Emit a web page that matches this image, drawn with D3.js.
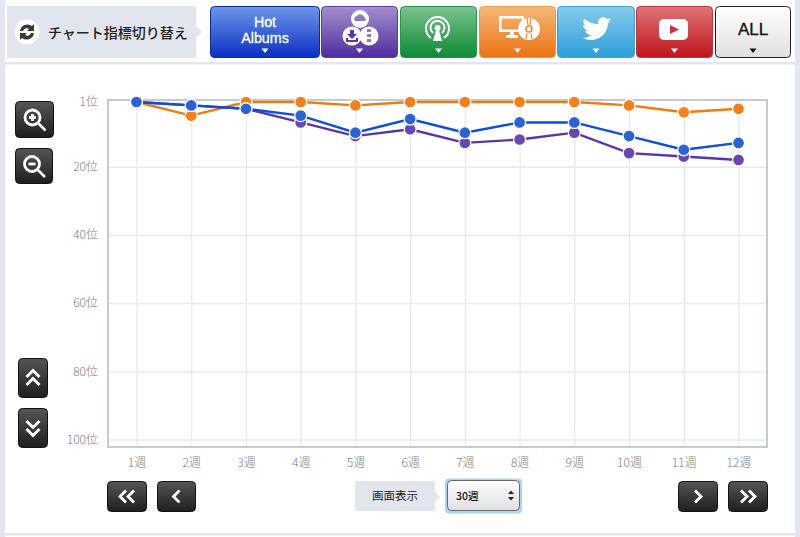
<!DOCTYPE html>
<html>
<head>
<meta charset="utf-8">
<script src="https://cdn.jsdelivr.net/npm/d3@7"></script>
<style>
html, body { margin: 0; padding: 0; background: #fff; overflow: hidden; }
svg { display: block; }
text { font-family: "Noto Sans CJK JP", "Liberation Sans", sans-serif; }
.axis text { fill: #7c7c7c; font-size: 12px; font-weight: 300; }
.axis path { display: none; }
.axis line { stroke: #e9e9ec; stroke-width: 1.3; }
</style>
</head>
<body>
<svg id="chart" width="800" height="537"></svg>
<script>
// chart values
var weeks = [1, 2, 3, 4, 5, 6, 7, 8, 9, 10, 11, 12];
var rankTicks = [1, 20, 40, 60, 80, 100];
var hotAlbums = [1, 2, 3, 5, 10, 6, 10, 7, 7, 11, 15, 13];
var downloads = [1, 2, 3, 7, 11, 9, 13, 12, 10, 16, 17, 18];
var lookups = [1, 5, 1, 1, 2, 1, 1, 1, 1, 2, 4, 3];

var svg = d3.select("#chart");
var defs = svg.append("defs");

// gradient for each toolbar button
function addGradient(id, top, bottom) {
    var g = defs.append("linearGradient").attr("id", id).attr("x1", 0).attr("y1", 0).attr("x2", 0).attr("y2", 1);
    g.append("stop").attr("offset", "0%").attr("stop-color", top);
    g.append("stop").attr("offset", "100%").attr("stop-color", bottom);
}
addGradient("gBlue", "#6d97e8", "#0a2fc4");
addGradient("gPurple", "#a48fd0", "#4f2c9e");
addGradient("gGreen", "#7cc48e", "#0c8a35");
addGradient("gOrange", "#f5b878", "#ec7212");
addGradient("gSky", "#88cbec", "#2a9dd8");
addGradient("gRed", "#de7478", "#c0141c");
addGradient("gWhite", "#ffffff", "#e0e0e0");
addGradient("gDark", "#555555", "#1e1e1e");

// page frame
svg.append("rect").attr("x", 0).attr("y", 0).attr("width", 5).attr("height", 537).attr("fill", "#e1e6ef");
svg.append("rect").attr("x", 795).attr("y", 0).attr("width", 5).attr("height", 537).attr("fill", "#e1e6ef");
svg.append("rect").attr("x", 5).attr("y", 62).attr("width", 790).attr("height", 2.5).attr("fill", "#e1e6ef");
svg.append("rect").attr("x", 5).attr("y", 533).attr("width", 790).attr("height", 2.5).attr("fill", "#e1e6ef");

// label on the left of the toolbar
svg.append("path").attr("d", "M7 6H196V26L202 32L196 38V58H7Z").attr("fill", "#e1e6ee");
svg.append("circle").attr("cx", 27).attr("cy", 32).attr("r", 12.5).attr("fill", "#fff");
svg.append("path").attr("d", "M20 31a7.5 7.5 0 0 1 12-5l2-2v7h-7l2-2a4 4 0 0 0-6 2Z M34 33a7.5 7.5 0 0 1-12 5l-2 2v-7h7l-2 2a4 4 0 0 0 6-2Z").attr("fill", "#3a3a3a");
svg.append("text").attr("x", 48).attr("y", 38).attr("font-size", 14).attr("font-weight", 500).attr("fill", "#222").text("チャート指標切り替え");

var buttons = [
    { x: 210, w: 110, fill: "gBlue", edge: "#0a2aa8" },
    { x: 321, w: 77, fill: "gPurple", edge: "#5a3ba6" },
    { x: 400, w: 77, fill: "gGreen", edge: "#1f9a4a" },
    { x: 479, w: 77, fill: "gOrange", edge: "#f09a3c" },
    { x: 557, w: 78, fill: "gSky", edge: "#35a5dd" },
    { x: 636, w: 77, fill: "gRed", edge: "#c9343a" },
    { x: 715, w: 76, fill: "gWhite", edge: "#222" }
];
buttons.forEach(function (b, i) {
    svg.append("rect").attr("x", b.x + 0.5).attr("y", 6.5).attr("width", b.w - 1).attr("height", 51).attr("rx", 4)
        .attr("fill", "url(#" + b.fill + ")").attr("stroke", b.edge);
    var cx = b.x + b.w / 2;
    svg.append("path").attr("d", "M" + (cx - 3.5) + " 48.5h7l-3.5 4.5Z").attr("fill", i == 6 ? "#111" : "#fff");
});

// no narrow face is installed, so the button text is squeezed by hand
svg.append("text").attr("transform", "translate(265,26.5) scale(0.92,1)").attr("text-anchor", "middle")
    .attr("font-size", 15.500).attr("fill", "#fff")
    .style("font-family", "'Liberation Sans'").style("stroke", "#fff").style("stroke-width", 0.35).text("Hot");
svg.append("text").attr("transform", "translate(265,42.5) scale(0.92,1)").attr("text-anchor", "middle")
    .attr("font-size", 15.500).attr("fill", "#fff")
    .style("font-family", "'Liberation Sans'").style("stroke", "#fff").style("stroke-width", 0.35).text("Albums");
svg.append("text").attr("x", 753).attr("y", 35).attr("text-anchor", "middle").attr("font-size", 17).attr("font-weight", 500).attr("fill", "#111")
    .style("font-family", "'Liberation Sans'").style("stroke", "#111").style("stroke-width", 0.3).text("ALL");

// purple icon
svg.append("circle").attr("cx", 360).attr("cy", 19).attr("r", 9).attr("fill", "#fff");
svg.append("circle").attr("cx", 352).attr("cy", 36).attr("r", 9.5).attr("fill", "#fff");
svg.append("circle").attr("cx", 369).attr("cy", 36).attr("r", 9.5).attr("fill", "#fff");
svg.append("path").attr("d", "M355 21a3 3 0 0 1 2-5a4 4 0 0 1 7 1a2.500 2.500 0 0 1 1 4Z").attr("fill", "#8f7ac0");
svg.append("path").attr("d", "M350 30h4v4h3l-5 5l-5-5h3Z M346 38v4h12v-4h-2v2h-8v-2Z").attr("fill", "#5a3ba6");
svg.append("path").attr("d", "M367 29h4v3h-4Z M367 34h4v3h-4Z M367 39h4v3h-4Z").attr("fill", "#8f7ac0");

// green icon
var gIcon = svg.append("g").attr("fill", "none").attr("stroke", "#fff").attr("stroke-width", 2);
gIcon.append("path").attr("d", "M431 38a11.500 11.500 0 1 1 13 0");
gIcon.append("path").attr("d", "M433 33a7 7 0 1 1 9 0");
svg.append("circle").attr("cx", 437.5).attr("cy", 28).attr("r", 3).attr("fill", "#fff");
svg.append("path").attr("d", "M436 30h3l3 11h-9Z").attr("fill", "#fff");

// orange icon
svg.append("path").attr("d", "M499 16h25v16h-10v3h4v3h-12v-3h4v-3h-11Z M501.500 18.500v11h20v-11Z").attr("fill", "#fff").attr("fill-rule", "evenodd");
svg.append("circle").attr("cx", 529).attr("cy", 29).attr("r", 11).attr("fill", "#fff");
svg.append("circle").attr("cx", 529).attr("cy", 29).attr("r", 3).attr("fill", "none").attr("stroke", "#ee8a2e").attr("stroke-width", 1.5);
svg.append("path").attr("d", "M527 18l1 7 M531 18l-1 7 M527 33l-1 6 M531 33l1 6").attr("stroke", "#ee8a2e").attr("stroke-width", 1.2);

// bird icon
svg.append("path").attr("d", "M584 19c5 3 9 5 14 5c-1-5 5-9 9-5c2 0 3-1 4-1c-1 1-1 2-3 3c1 0 3 0 3-1c-1 2-2 3-3 3c0 10-8 17-17 17c-3 0-6-1-8-2c3 0 6-1 8-3c-3 0-5-2-6-4h3c-3-1-5-4-5-6l3 1c-3-2-3-5-2-7Z").attr("fill", "#fff");

// video icon
svg.append("rect").attr("x", 659).attr("y", 19).attr("width", 29).attr("height", 21).attr("rx", 5).attr("fill", "#fff");
svg.append("path").attr("d", "M670 25l9 4.500l-9 4.500Z").attr("fill", "#c9343a");

// dark side buttons
function darkButton(x, y, w, h, draw) {
    svg.append("rect").attr("x", x + 0.5).attr("y", y + 0.5).attr("width", w - 1).attr("height", h - 1).attr("rx", 4)
        .attr("fill", "url(#gDark)").attr("stroke", "#111");
    var g = svg.append("g").attr("transform", "translate(" + (x + w / 2) + "," + (y + h / 2) + ")")
        .attr("fill", "none").attr("stroke", "#fff").attr("stroke-width", 2.8);
    draw(g);
}
function magnifier(plus) {
    return function (g) {
        g.append("circle").attr("cx", -2).attr("cy", -2).attr("r", 7.5);
        g.append("path").attr("d", "M4 4l7 7").attr("stroke-width", 2.5);
        g.append("path").attr("d", plus ? "M-5.5-2h7M-2-5.5v7" : "M-5.5-2h7");
    };
}
function chevrons(ds) {
    return function (g) { g.append("path").attr("d", ds); };
}
darkButton(15, 101, 39, 37, magnifier(true));
darkButton(15, 148, 38, 36, magnifier(false));
darkButton(18, 358, 30, 40, chevrons("M-6.5-1l6.500-6.500l6.500 6.500M-6.5 7l6.500-6.500l6.500 6.500"));
darkButton(18, 408, 30, 40, chevrons("M-6.5-7l6.500 6.500l6.500-6.500M-6.5 1l6.500 6.500l6.500-6.500"));
darkButton(107, 481, 40, 31, chevrons("M-1-6l-6 6l6 6M7-6l-6 6l6 6"));
darkButton(157, 481, 39, 31, chevrons("M3-6l-6 6l6 6"));
darkButton(678, 481, 40, 31, chevrons("M-3-6l6 6l-6 6"));
darkButton(728, 481, 40, 31, chevrons("M-7-6l6 6l-6 6M1-6l6 6l-6 6"));

// window size control
svg.append("path").attr("d", "M355 481H435V492L440 497L435 502V511H355Z").attr("fill", "#e1e6ee");
svg.append("text").attr("x", 395).attr("y", 500).attr("text-anchor", "middle").attr("font-size", 11.500).attr("fill", "#222").text("画面表示");
svg.append("rect").attr("x", 445).attr("y", 478.500).attr("width", 77).attr("height", 35).attr("rx", 4).attr("fill", "#a9d4fb");
svg.append("rect").attr("x", 447.500).attr("y", 480.500).attr("width", 72).attr("height", 30).attr("rx", 4).attr("fill", "url(#gWhite)").attr("stroke", "#666");
svg.append("text").attr("x", 456).attr("y", 500).attr("font-size", 10.500).attr("font-weight", 500).attr("fill", "#111").text("30週");
svg.append("path").attr("d", "M508 494l3-3.500l3 3.500Z M508 497l3 3.500l3-3.500Z").attr("fill", "#222");

// chart area
var frame = { left: 108, right: 767, top: 100, bottom: 447 };
var x = d3.scaleLinear().domain([1, 12]).range([136.5, 738.5]);
var y = d3.scaleLinear().domain([1, 100]).range([102, 439.5]);

var yAxis = d3.axisLeft(y).tickValues(rankTicks)
    .tickSize(-(frame.right - frame.left - 2)).tickPadding(9)
    .tickFormat(function (d) { return d + "位"; });
var yGroup = svg.append("g").attr("class", "axis").attr("transform", "translate(" + (frame.left + 1) + ",0)").call(yAxis);
// no grid line at rank 1, it sits against the frame
yGroup.selectAll(".tick").filter(function (d) { return d == 1; }).select("line").remove();
yGroup.selectAll("text").attr("x", -11);

var xAxis = d3.axisBottom(x).tickValues(weeks)
    .tickSize(-(frame.bottom - frame.top)).tickPadding(11)
    .tickFormat(function (d) { return d + "週"; });
svg.append("g").attr("class", "axis").attr("transform", "translate(0," + frame.bottom + ")").call(xAxis);

svg.append("rect").attr("x", frame.left).attr("y", frame.top)
    .attr("width", frame.right - frame.left).attr("height", frame.bottom - frame.top)
    .attr("fill", "none").attr("stroke", "#b5bdc9").attr("stroke-width", 1.6);

// series, the blue one stays on top
var series = [
    { values: lookups, line: "#f07a0a", dot: "#f5801a" },
    { values: downloads, line: "#5a34a8", dot: "#6a45b4" },
    { values: hotAlbums, line: "#0f4fd8", dot: "#2a62d8" }
];
var line = d3.line().x(function (d, i) { return x(weeks[i]); }).y(function (d) { return y(d); });

series.forEach(function (s) {
    svg.append("path").datum(s.values).attr("d", line).attr("fill", "none")
        .attr("stroke", s.line).attr("stroke-width", 2.4);
    svg.append("g").selectAll("circle").data(s.values).join("circle")
        .attr("cx", function (d, i) { return x(weeks[i]); })
        .attr("cy", function (d) { return y(d); })
        .attr("r", 6).attr("fill", s.dot).attr("stroke", "#fff").attr("stroke-width", 1.3);
});
</script>
</body>
</html>
